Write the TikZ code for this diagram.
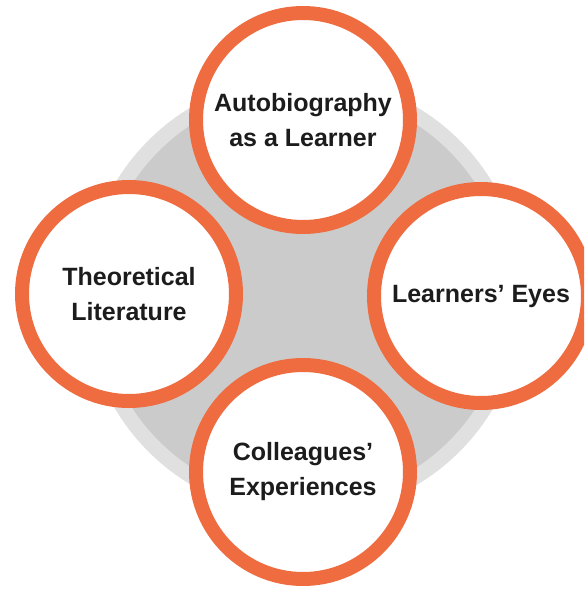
\documentclass[tikz,border=0pt]{standalone}
\usepackage{fontspec}
\setmainfont{Liberation Sans}
\definecolor{ringorange}{RGB}{238,108,64}
\definecolor{lightgr}{RGB}{224,224,224}
\definecolor{darkgr}{RGB}{203,203,203}
\definecolor{txt}{RGB}{28,28,28}
\begin{document}
\begin{tikzpicture}[x=1pt,y=-1pt,
  ring/.style={circle, draw=ringorange, line width=14pt, fill=white,
    minimum size=214pt, inner sep=0pt, align=center, text=txt,
    font=\fontsize{25}{35}\selectfont\bfseries}]
\clip (0,0) rectangle (584,589);
\fill[white] (0,0) rectangle (584,589);
\coordinate (c) at (304,296);
\fill[lightgr] (c) circle[radius=220];
\fill[darkgr] (c) circle[radius=205];
\node[ring] (top) at (303,120) {Autobiography\\as a Learner};
\node[ring] (left) at (129,294) {Theoretical\\Literature};
\node[ring] (right) at (481,296) {Learners’ Eyes};
\node[ring] (bottom) at (303,472) {Colleagues’\\Experiences};
\end{tikzpicture}
\end{document}
